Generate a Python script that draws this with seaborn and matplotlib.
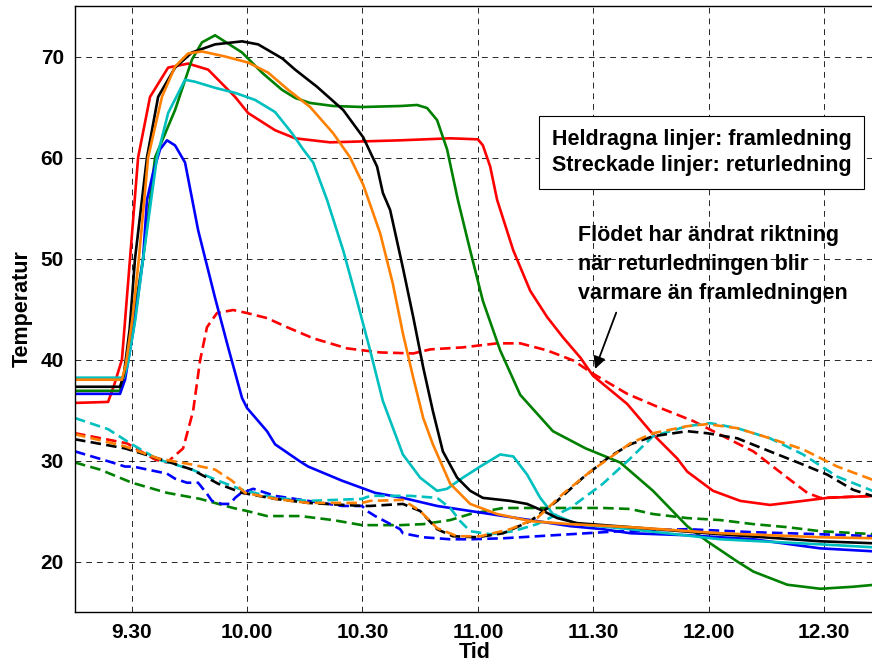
import numpy as np
import pandas as pd
import matplotlib
matplotlib.use("Agg")
import matplotlib.pyplot as plt
import seaborn as sns

# tid = minuter efter kl 9.00, temp i grader
red_fram_t = [15.3, 23.9, 25.5, 27.5, 29.6, 31.7, 34.8, 39.5, 44.7, 49.9, 56.9, 60.3, 67.3, 72.5, 81.6,
              99.8, 112.8, 120.0, 121.3, 123.2, 125.0, 129.2, 133.6, 138.0, 142.1, 146.6, 149.9, 158.8,
              165.5, 171.8, 174.4, 181.1, 188.2, 195.9, 204.5, 210.8, 223.2]
red_fram_y = [35.7, 35.8, 37.5, 40.0, 50.0, 60.0, 66.0, 68.9, 69.3, 68.7, 66.0, 64.4, 62.7, 61.9, 61.5,
              61.7, 61.9, 61.8, 61.2, 59.1, 55.8, 50.8, 46.8, 44.2, 42.2, 40.2, 38.4, 35.6,
              32.6, 30.2, 28.9, 27.0, 26.0, 25.6, 26.0, 26.3, 26.5]
red_ret_t = [15.3, 28.8, 36.1, 39.2, 43.4, 46.0, 47.8, 49.6, 52.2, 56.4, 60.0, 65.2, 70.4, 77.2, 86.0,
             94.6, 103.2, 107.6, 116.1, 125.0, 131.0, 138.0, 144.8, 149.9, 158.8, 167.4, 176.0, 184.8,
             191.6, 200.4, 205.6, 209.0, 223.2]
red_ret_y = [32.7, 31.7, 30.1, 29.8, 31.2, 34.9, 39.9, 43.2, 44.6, 44.9, 44.6, 44.1, 43.2, 42.1, 41.1,
             40.7, 40.6, 41.0, 41.2, 41.6, 41.6, 40.9, 39.9, 38.6, 36.6, 35.2, 33.9, 32.2,
             30.9, 28.3, 26.8, 26.3, 26.5]

green_fram_t = [15.3, 27.0, 28.0, 30.0, 33.0, 36.1, 41.3, 45.7, 48.3, 51.7, 58.7, 63.9, 69.1, 72.5, 76.4,
                82.4, 90.0, 100.0, 104.2, 106.8, 109.4, 112.0, 114.8, 118.0, 121.3, 125.8, 131.0, 139.5,
                148.0, 157.0, 165.5, 174.4, 179.6, 187.4, 191.6, 200.4, 209.0, 217.5, 223.2]
green_fram_y = [36.9, 36.9, 38.5, 43.0, 50.0, 60.0, 64.7, 69.7, 71.4, 72.1, 70.4, 68.4, 66.7, 65.9, 65.4,
                65.1, 65.0, 65.1, 65.2, 64.9, 63.7, 60.8, 55.8, 50.8, 45.8, 40.9, 36.5, 32.9,
                31.2, 29.8, 27.0, 23.5, 22.0, 20.0, 19.0, 17.7, 17.3, 17.5, 17.7]
green_ret_t = [15.3, 21.8, 30.1, 39.2, 47.8, 56.4, 60.0, 65.2, 73.8, 82.4, 89.9, 99.8, 105.8, 112.8, 118.0,
               126.6, 135.4, 144.0, 152.5, 159.6, 165.5, 174.4, 183.0, 191.6, 200.4, 209.0, 223.2]
green_ret_y = [29.8, 29.1, 27.8, 26.8, 26.2, 25.3, 25.0, 24.5, 24.5, 24.1, 23.6, 23.6, 23.7, 24.1, 24.7,
               25.3, 25.3, 25.3, 25.3, 25.2, 24.7, 24.3, 24.1, 23.7, 23.4, 23.0, 22.7]

blue_fram_t = [15.3, 27.0, 28.3, 30.5, 33.0, 34.0, 35.6, 37.4, 39.2, 41.3, 43.9, 47.3, 51.7, 55.1, 58.7,
               60.0, 65.2, 67.3, 73.8, 75.9, 84.7, 93.3, 100.5, 109.4, 118.0, 126.6, 135.4, 144.0,
               152.5, 159.6, 174.4, 191.6, 209.0, 223.2]
blue_fram_y = [36.6, 36.6, 38.0, 43.0, 50.0, 55.8, 58.5, 60.8, 61.7, 61.2, 59.5, 52.8, 46.1, 41.2, 36.2,
               35.2, 32.9, 31.6, 29.9, 29.4, 28.0, 26.8, 26.3, 25.5, 25.0, 24.5, 24.0, 23.5,
               23.2, 22.8, 22.6, 22.2, 21.3, 21.0]
blue_ret_t = [15.3, 25.0, 28.3, 30.4, 39.2, 41.3, 44.4, 47.3, 49.6, 50.9, 53.5, 55.6, 56.9, 58.2, 61.6,
              67.3, 75.9, 84.7, 89.9, 91.2, 93.3, 99.8, 100.5, 105.8, 109.4, 112.8, 118.0, 126.6,
              135.4, 144.0, 157.0, 174.4, 191.6, 209.0, 223.2]
blue_ret_y = [30.9, 29.8, 29.4, 29.4, 28.7, 28.2, 27.8, 27.8, 26.7, 26.0, 25.7, 25.7, 26.3, 26.7, 27.2,
              26.5, 26.0, 25.5, 25.5, 25.0, 24.5, 23.2, 22.8, 22.4, 22.3, 22.2, 22.2, 22.3,
              22.5, 22.7, 23.0, 23.2, 22.9, 22.7, 22.5]

black_fram_t = [15.3, 27.0, 28.0, 29.5, 30.9, 34.0, 36.9, 41.3, 45.7, 51.7, 58.7, 62.9, 69.2, 72.5, 78.2,
                85.0, 90.2, 93.8, 95.3, 97.2, 100.5, 103.2, 105.8, 108.3, 110.9, 114.6, 118.0, 121.3,
                128.4, 132.8, 137.0, 140.6, 145.8, 159.6, 183.0, 209.0, 223.2]
black_fram_y = [37.3, 37.3, 38.5, 43.0, 50.0, 60.0, 66.0, 68.9, 70.4, 71.2, 71.5, 71.2, 69.8, 68.7, 67.0,
                64.7, 62.0, 59.1, 56.5, 54.8, 49.1, 44.2, 39.2, 34.9, 30.9, 28.3, 27.0, 26.3,
                26.0, 25.7, 25.0, 24.3, 23.8, 23.4, 22.7, 22.0, 21.8]
black_ret_t = [15.3, 28.3, 36.9, 45.7, 52.5, 58.7, 67.3, 75.9, 89.9, 92.0, 100.5, 105.0, 109.4, 113.5, 119.8,
               126.6, 133.6, 140.6, 147.3, 154.3, 159.6, 165.5, 174.4, 179.6, 187.4, 195.9, 204.5, 210.8,
               217.5, 223.2]
black_ret_y = [32.1, 31.2, 30.2, 29.1, 27.7, 26.8, 26.2, 25.8, 25.5, 25.5, 25.7, 25.0, 23.2, 22.5, 22.4,
               22.8, 24.0, 26.0, 28.3, 30.4, 31.6, 32.4, 32.9, 32.7, 32.2, 30.9, 29.6, 28.6,
               27.1, 26.4]

orange_fram_t = [15.3, 27.5, 28.5, 30.2, 31.9, 34.3, 37.9, 41.3, 44.7, 48.3, 54.3, 60.3, 65.5, 70.7, 76.4,
                 82.4, 86.8, 90.2, 94.6, 97.9, 100.5, 103.2, 105.8, 108.3, 112.8, 118.0, 125.0, 133.6,
                 144.0, 159.6, 183.0, 209.0, 223.2]
orange_fram_y = [38.0, 38.0, 39.5, 44.0, 50.0, 60.0, 66.0, 69.0, 70.3, 70.5, 70.0, 69.4, 68.4, 66.7, 65.0,
                 62.4, 60.0, 57.3, 52.5, 47.5, 42.6, 38.2, 34.2, 31.6, 27.7, 25.7, 24.7, 24.0,
                 23.7, 23.4, 22.8, 22.4, 22.3]
orange_ret_t = [15.3, 28.3, 36.9, 45.7, 51.7, 56.1, 59.5, 67.3, 75.9, 89.9, 92.0, 100.5, 105.0, 109.4, 114.6,
                120.6, 128.4, 135.4, 142.1, 149.2, 159.6, 165.5, 174.4, 179.6, 187.4, 195.9, 204.5, 213.4,
                223.2]
orange_ret_y = [32.6, 31.4, 30.2, 29.6, 29.1, 28.0, 26.8, 26.2, 25.8, 25.8, 26.0, 26.1, 25.0, 23.3, 22.5,
                22.5, 23.2, 24.3, 26.7, 28.9, 31.7, 32.7, 33.4, 33.6, 33.2, 32.2, 31.1, 29.4,
                28.0]

cyan_fram_t = [15.3, 28.0, 29.0, 31.0, 33.0, 36.6, 39.5, 43.9, 46.5, 51.7, 56.9, 62.1, 67.3, 71.7, 74.6,
               77.2, 80.8, 85.0, 88.6, 92.0, 95.3, 100.5, 105.0, 109.4, 112.0, 116.1, 120.6, 125.8,
               129.2, 132.8, 136.2, 139.5, 145.8, 159.6, 183.0, 209.0, 223.2]
cyan_fram_y = [38.2, 38.2, 39.5, 44.0, 50.0, 60.0, 64.4, 67.7, 67.5, 66.9, 66.4, 65.7, 64.5, 62.4, 60.8,
               59.5, 55.8, 50.8, 45.8, 40.9, 35.9, 30.6, 28.3, 27.0, 27.2, 28.3, 29.4, 30.6,
               30.4, 28.6, 26.3, 24.7, 23.7, 23.2, 22.2, 21.7, 21.4]
cyan_ret_t = [15.3, 23.9, 30.1, 36.9, 45.7, 52.5, 58.7, 67.3, 75.9, 89.9, 92.0, 102.4, 109.4, 112.8, 115.4,
              118.0, 123.2, 129.2, 135.4, 144.0, 152.5, 159.6, 165.5, 174.4, 180.4, 187.4, 195.9, 204.5,
              213.4, 223.2]
cyan_ret_y = [34.2, 33.1, 31.6, 30.1, 29.1, 28.0, 27.1, 26.3, 26.0, 26.2, 26.5, 26.5, 26.3, 25.3, 24.0,
              23.0, 22.7, 23.0, 23.7, 25.3, 27.7, 30.2, 32.4, 33.4, 33.7, 33.2, 32.2, 30.6,
              28.4, 26.9]

tick_pos = [30, 60, 90, 120, 150, 180, 210]
tick_labels = ["9.30", "10.00", "10.30", "11.00", "11.30", "12.00", "12.30"]

colors = {"red": "#ff0000", "green": "#008000", "blue": "#0000ff",
          "black": "#000000", "orange": "#ff8000", "cyan": "#00bfbf"}

pipes = {
    "red": (red_fram_t, red_fram_y, red_ret_t, red_ret_y),
    "green": (green_fram_t, green_fram_y, green_ret_t, green_ret_y),
    "blue": (blue_fram_t, blue_fram_y, blue_ret_t, blue_ret_y),
    "cyan": (cyan_fram_t, cyan_fram_y, cyan_ret_t, cyan_ret_y),
    "black": (black_fram_t, black_fram_y, black_ret_t, black_ret_y),
    "orange": (orange_fram_t, orange_fram_y, orange_ret_t, orange_ret_y),
}

rows = []
for name, (tf, yf, tr, yr) in pipes.items():
    for t, y in zip(tr, yr):
        rows.append((name, "retur", t, y))
    for t, y in zip(tf, yf):
        rows.append((name, "fram", t, y))
df = pd.DataFrame(rows, columns=["pipe", "typ", "tid", "temp"])

sns.set_theme(style="white")
plt.rcParams["font.family"] = ["Liberation Sans", "DejaVu Sans"]
plt.rcParams["font.weight"] = "bold"
plt.rcParams["text.color"] = "black"
plt.rcParams["axes.labelcolor"] = "black"
plt.rcParams["xtick.color"] = "black"
plt.rcParams["ytick.color"] = "black"

fig = plt.figure(figsize=(8.72, 6.65), dpi=100)
ax = fig.add_axes([75 / 872, 1 - 612 / 665, 800 / 872, 606 / 665])

sns.lineplot(data=df, x="tid", y="temp", hue="pipe", style="typ", palette=colors,
             dashes={"fram": "", "retur": (4, 2)}, estimator=None, sort=False,
             linewidth=1.9, legend=False, ax=ax)

ax.set_xlim(15.3, 223.2)
ax.set_ylim(15, 75)
ax.set_xticks(tick_pos)
ax.set_xticklabels(tick_labels)
ax.set_yticks([20, 30, 40, 50, 60, 70])
ax.tick_params(labelsize=15, length=0, pad=8)
for lab in ax.get_xticklabels() + ax.get_yticklabels():
    lab.set_fontweight("bold")
ax.grid(True, color="black", linestyle=(0, (6, 5)), linewidth=0.7, alpha=0.85)
ax.set_axisbelow(True)
for s in ["left", "bottom", "top"]:
    ax.spines[s].set_color("black")
    ax.spines[s].set_linewidth(1.0)
ax.spines["right"].set_visible(False)

ax.set_xlabel("Tid", fontsize=15.5, fontweight="bold", labelpad=0)
ax.set_ylabel("Temperatur", fontsize=15.5, fontweight="bold", labelpad=6)

ax.text(178.1, 60.5, "Heldragna linjer: framledning\nStreckade linjer: returledning",
        ha="center", va="center", fontsize=15.5, fontweight="bold", linespacing=1.33,
        bbox=dict(boxstyle="square,pad=0.6", fc="white", ec="black", lw=0.8))

ax.text(146.0, 49.4, "Flödet har ändrat riktning\nnär returledningen blir\nvarmare än framledningen",
        ha="left", va="center", fontsize=15.5, fontweight="bold", linespacing=1.5)
ax.annotate("", xy=(150.2, 38.8), xytext=(156.2, 44.9),
            arrowprops=dict(arrowstyle="-|>", color="black", lw=1.3, mutation_scale=18))

fig.savefig("out.png", dpi=100)
